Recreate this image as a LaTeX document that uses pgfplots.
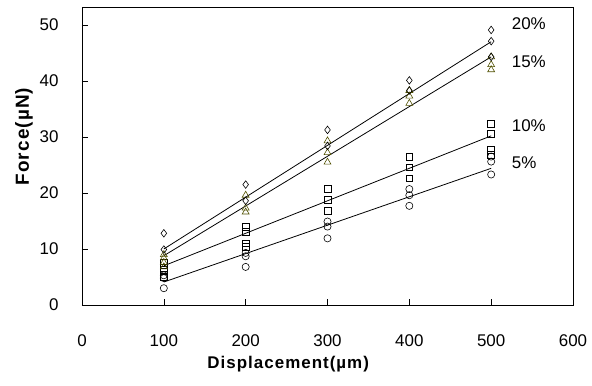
\documentclass[border=0pt]{standalone}
\usepackage{fontspec}
\setmainfont{Liberation Sans}
\usepackage{pgfplots}
\pgfplotsset{compat=1.18}
\definecolor{tri}{RGB}{80,80,0}
\begin{document}
\begin{tikzpicture}
\begin{axis}[
  scale only axis,
  width=491bp, height=298bp,
  xmin=0, xmax=600, ymin=0, ymax=53.2,
  xtick={0,100,...,600}, ytick={0,10,...,50},
  axis line style={line width=0.9pt},
  tick style={black, line width=0.6pt},
  tick align=inside,
  xtick pos=bottom, ytick pos=left,
  major tick length=6bp,
  /pgf/number format/assume math mode=true,
  tick label style={font=\fontsize{17}{19}\selectfont},
  xticklabel style={yshift=-26bp},
  yticklabel style={xshift=-20bp},
  xlabel={Displacement(µm)},
  ylabel={Force(µN)},
  xlabel style={font=\fontsize{17}{19}\selectfont\bfseries\addfontfeatures{LetterSpace=6},
    at={(ticklabel cs:0.42)}, yshift=-3bp},
  ylabel style={font=\fontsize{19}{21}\selectfont\bfseries\addfontfeatures{LetterSpace=6},
    at={(ticklabel cs:0.565)}},
  clip=false,
]
% 5% circles
\addplot[only marks, mark=o, mark size=3.6pt, black, line width=0.6pt] table {
x y
100 3.0
100 4.8
100 5.3
200 6.8
200 8.7
200 9.3
300 11.9
300 14.0
300 14.9
400 17.7
400 19.6
400 20.7
500 23.3
500 25.6
500 26.5
};
% 10% squares
\addplot[only marks, mark=square, mark size=3.4pt, black, line width=0.6pt] table {
x y
100 5.0
100 6.0
100 6.6
100 7.5
200 10.4
200 11.0
200 13.0
200 13.9
300 16.8
300 18.75
300 20.7
400 22.6
400 24.6
400 26.4
500 26.8
500 27.7
500 30.5
500 32.4
};
% 15% triangles
\addplot[only marks, mark=triangle, mark size=4pt, tri, line width=0.6pt] table {
x y
100 6.8
100 7.6
100 8.4
100 9.0
200 16.6
200 17.3
200 19.6
300 25.5
300 27.2
300 29.3
400 36.0
400 37.3
400 38.3
500 42.0
500 42.9
500 44.3
};
% 20% diamonds
\addplot[only marks, mark=diamond, mark size=3.8pt, black, line width=0.6pt] table {
x y
100 9.9
100 12.8
200 18.6
200 21.5
300 28.4
300 31.25
400 38.3
400 40.1
500 44.3
500 47.1
500 49.1
};
% fitted lines
\addplot[black, line width=0.8pt] coordinates {(100,4.1) (500,24.4)};
\addplot[black, line width=0.8pt] coordinates {(100,7.0) (500,30.2)};
\addplot[black, line width=0.8pt] coordinates {(100,8.8) (500,44.3)};
\addplot[black, line width=0.8pt] coordinates {(100,10.0) (500,47.0)};
% labels
\node[anchor=west, font=\fontsize{17}{19}\selectfont] at (axis cs:521,50.2) {20\%};
\node[anchor=west, font=\fontsize{17}{19}\selectfont] at (axis cs:521,43.4) {15\%};
\node[anchor=west, font=\fontsize{17}{19}\selectfont] at (axis cs:521,32.1) {10\%};
\node[anchor=west, font=\fontsize{17}{19}\selectfont] at (axis cs:521,25.4) {5\%};
\path (rel axis cs:0,0) ++(-82bp,-81bp) coordinate (bbll);
\path (rel axis cs:1,1) ++(19bp,7bp) coordinate (bbur);
\end{axis}
\path (bbll) rectangle (bbur);
\end{tikzpicture}
\end{document}
